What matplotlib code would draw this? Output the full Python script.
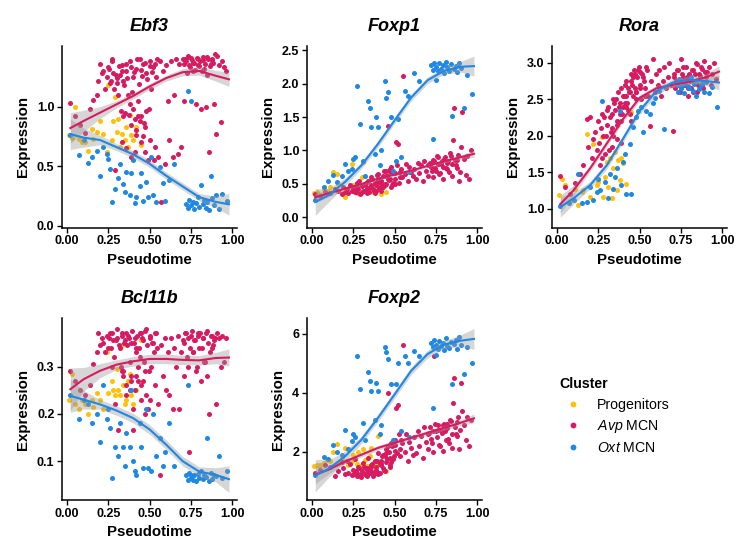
import numpy as np
import matplotlib
matplotlib.use('Agg')
import matplotlib.pyplot as plt
from matplotlib.lines import Line2D

plt.rcParams['font.family'] = ['Liberation Sans', 'DejaVu Sans']
plt.rcParams['mathtext.fontset'] = 'custom'
plt.rcParams['mathtext.rm'] = 'Liberation Sans'
plt.rcParams['mathtext.it'] = 'Liberation Sans:italic'

cluster_names = ['Progenitors', 'Avp MCN', 'Oxt MCN']
cluster_colors = ['#FFC107', '#D81B60', '#1E88E5']

# pseudotime of the cells in each cluster (shared by all genes)
prog_time = [0.01, 0.03, 0.05, 0.07, 0.09, 0.11, 0.13, 0.15, 0.16, 0.18,
             0.20, 0.22, 0.24, 0.25, 0.27, 0.28, 0.29, 0.30, 0.31, 0.32,
             0.33, 0.34, 0.35, 0.36, 0.37, 0.38, 0.39, 0.40, 0.42, 0.45]

avp_time = [0.02, 0.05, 0.08, 0.11, 0.14, 0.16, 0.18, 0.19, 0.20, 0.21,
            0.22, 0.23, 0.24, 0.25, 0.26, 0.27, 0.28, 0.29, 0.30, 0.31,
            0.32, 0.33, 0.34, 0.35, 0.36, 0.37, 0.38, 0.39, 0.40, 0.41,
            0.42, 0.43, 0.44, 0.45, 0.46, 0.47, 0.48, 0.49, 0.50, 0.51,
            0.52, 0.53, 0.54, 0.55, 0.56, 0.57, 0.58, 0.59, 0.60, 0.61,
            0.62, 0.63, 0.64, 0.65, 0.66, 0.67, 0.68, 0.69, 0.70, 0.71,
            0.72, 0.73, 0.74, 0.75, 0.76, 0.77, 0.78, 0.79, 0.80, 0.81,
            0.82, 0.83, 0.84, 0.85, 0.86, 0.87, 0.88, 0.89, 0.90, 0.91,
            0.92, 0.93, 0.94, 0.95, 0.96, 0.34, 0.38, 0.44, 0.48, 0.46,
            0.36, 0.42, 0.40, 0.45, 0.50, 0.43, 0.39, 0.47, 0.33, 0.41,
            0.255, 0.265, 0.275, 0.285, 0.295, 0.305, 0.315, 0.325, 0.335, 0.345,
            0.355, 0.365, 0.375, 0.385, 0.395, 0.405, 0.415, 0.425, 0.435, 0.445,
            0.455, 0.465, 0.475, 0.485, 0.495, 0.505, 0.515, 0.525, 0.535, 0.545,
            0.705, 0.715, 0.725, 0.735, 0.745, 0.755, 0.765, 0.775, 0.785, 0.795,
            0.805, 0.815, 0.825, 0.835, 0.845, 0.855, 0.865, 0.875, 0.885, 0.895]

oxt_time = [0.02, 0.07, 0.10, 0.13, 0.15, 0.18, 0.20, 0.22,
            0.24, 0.25, 0.26, 0.27, 0.29, 0.31, 0.32, 0.34, 0.35, 0.36,
            0.38, 0.39, 0.40, 0.41, 0.42, 0.44, 0.45, 0.46, 0.48, 0.49,
            0.51, 0.52, 0.54, 0.56, 0.58, 0.59, 0.62, 0.65, 0.73, 0.75,
            0.72, 0.73, 0.74, 0.75, 0.76, 0.77, 0.78, 0.79, 0.80, 0.81,
            0.82, 0.83, 0.84, 0.85, 0.86, 0.87, 0.88, 0.89, 0.90, 0.92,
            0.94, 0.97]

# --- Ebf3 ---
ebf3_prog = [0.76, 0.74, 1.00, 0.73, 0.70, 0.70, 0.63, 0.81, 0.73, 0.79,
             0.88, 0.77, 0.62, 1.18, 0.72, 0.88, 1.08, 0.79, 0.90, 0.66,
             0.77, 1.22, 0.72, 0.83, 0.66, 0.93, 0.76, 0.72, 0.83, 0.68]
ebf3_avp = [1.03, 0.92, 0.85, 0.78, 0.98, 1.06, 1.10, 1.22, 1.36, 1.28,
            1.30, 1.15, 1.25, 1.33, 1.20, 1.40, 1.28, 0.47, 1.24, 1.10,
            1.27, 1.35, 1.22, 0.95, 1.30, 1.10, 1.38, 0.85, 1.25, 0.62,
            1.32, 0.92, 1.40, 0.70, 1.36, 0.62, 1.28, 0.55, 1.38, 1.15,
            1.33, 0.66, 1.25, 0.58, 1.38, 0.20, 1.30, 0.52, 1.35, 1.05,
            0.72, 1.38, 0.58, 1.10, 1.40, 0.60, 1.36, 0.66, 1.40, 1.05,
            1.38, 1.42, 1.35, 1.41, 1.30, 1.37, 1.02, 1.40, 1.34, 0.98,
            1.39, 1.32, 1.00, 1.42, 0.62, 1.36, 1.40, 1.02, 0.77, 1.43,
            1.35, 0.87, 1.38, 1.33, 1.30, 0.92, 1.02, 0.88, 0.96, 0.75,
            0.65, 0.80, 0.98, 0.92, 0.72, 1.05, 0.58, 0.83, 0.70, 0.90,
            1.32, 1.22, 1.38, 1.15, 1.27, 1.20, 1.34, 0.96, 1.30, 1.18,
            1.36, 1.24, 0.93, 1.33, 1.12, 1.29, 0.76, 1.40, 1.19, 1.31,
            1.26, 0.86, 1.37, 1.23, 0.98, 1.34, 1.29, 0.55, 1.36, 1.40,
            1.36, 1.40, 1.28, 1.43, 1.33, 1.39, 1.37, 1.31, 1.41, 1.35,
            1.38, 1.30, 1.42, 1.36, 1.27, 1.40, 1.34, 1.39, 1.37, 1.44]
ebf3_oxt = [0.76, 0.59, 0.72, 0.53, 0.58, 0.63, 0.42, 0.66,
            0.60, 0.56, 0.48, 0.20, 0.31, 0.40, 0.52, 0.35, 0.28, 0.45,
            0.26, 0.44, 0.55, 0.19, 0.24, 0.33, 0.44, 0.21, 0.37, 0.24,
            0.58, 0.26, 0.20, 0.49, 0.36, 0.21, 0.38, 0.52, 1.13, 1.05,
            0.18, 0.15, 0.22, 0.17, 0.20, 0.14, 0.19, 0.24, 0.16, 0.34,
            0.18, 0.22, 0.15, 0.20, 0.13, 0.42, 0.23, 0.17, 0.26, 0.14,
            0.27, 0.21]

# --- Foxp1 ---
foxp1_prog = [0.36, 0.38, 0.33, 0.42, 0.40, 0.45, 0.68, 0.65, 0.50, 0.36,
              0.31, 0.44, 0.80, 0.48, 0.36, 0.52, 0.36, 0.60, 0.83, 0.48,
              0.41, 0.55, 0.44, 0.46, 0.38, 0.50, 0.42, 0.58, 0.35, 0.38]
foxp1_avp = [0.35, 0.32, 0.38, 0.36, 0.42, 0.40, 0.35, 0.45, 0.38, 0.43,
             0.36, 0.48, 0.40, 0.44, 0.38, 0.52, 0.42, 0.35, 0.47, 0.40,
             0.50, 0.38, 0.55, 0.45, 0.60, 0.42, 0.52, 0.48, 0.65, 0.44,
             0.55, 0.62, 0.48, 0.70, 1.36, 0.58, 0.75, 0.52, 0.66, 1.12,
             1.10, 0.60, 0.72, 2.11, 0.65, 0.80, 0.55, 0.76, 0.68, 0.62,
             0.72, 0.58, 0.82, 0.66, 0.78, 0.55, 0.85, 0.70, 0.62, 0.80,
             0.76, 0.60, 0.85, 0.70, 0.90, 0.65, 0.80, 0.58, 0.88, 0.74,
             0.82, 0.68, 0.92, 0.62, 1.64, 0.78, 0.86, 0.55, 1.05, 1.57,
             0.88, 0.64, 0.92, 0.58, 1.00, 0.42, 0.36, 0.50, 0.45, 0.58,
             0.48, 0.40, 0.56, 0.62, 0.50, 0.45, 0.40, 0.68, 0.37, 0.52,
             0.42, 0.38, 0.45, 0.55, 0.36, 0.48, 0.40, 0.52, 0.44, 0.38,
             0.46, 0.58, 0.40, 0.52, 0.63, 0.44, 0.55, 0.48, 0.70, 0.50,
             0.62, 0.56, 0.72, 0.48, 0.66, 0.58, 0.78, 0.52, 0.68, 0.60,
             0.78, 0.82, 0.70, 0.86, 0.74, 0.92, 0.80, 0.66, 0.84, 0.76,
             0.90, 0.72, 0.84, 0.96, 0.80, 1.16, 0.86, 0.74, 0.94, 0.68]
foxp1_oxt = [0.26, 0.46, 0.55, 0.63, 0.53, 0.62, 0.80, 0.70,
             0.72, 0.88, 0.90, 1.97, 1.40, 0.85, 0.62, 1.74, 1.64, 1.35,
             0.95, 1.50, 1.35, 0.78, 1.00, 2.04, 1.79, 1.87, 1.50, 0.70,
             0.85, 1.47, 0.90, 1.89, 1.82, 0.68, 2.16, 2.04, 1.17, 2.05,
             2.28, 2.20, 2.31, 2.25, 2.18, 2.30, 2.22, 2.27, 2.16, 2.32,
             2.24, 2.19, 2.29, 1.52, 2.21, 2.26, 2.17, 2.30, 2.23, 1.64,
             2.12, 1.84]

# --- Rora ---
rora_prog = [1.18, 1.40, 1.32, 1.07, 1.12, 1.27, 1.05, 1.23, 1.25, 2.02,
             1.16, 1.89, 1.32, 1.36, 1.98, 1.16, 1.43, 1.64, 1.30, 1.70,
             1.14, 1.55, 1.77, 1.25, 1.66, 1.39, 1.70, 1.62, 1.34, 2.32]
rora_avp = [1.45, 1.30, 1.20, 1.35, 1.48, 1.60, 2.23, 1.85, 2.25, 1.70,
            1.95, 2.05, 1.80, 2.20, 1.60, 2.30, 2.00, 1.75, 2.15, 2.40,
            2.25, 2.10, 2.50, 2.35, 1.95, 2.60, 2.45, 2.20, 2.55, 2.70,
            2.40, 2.65, 2.30, 2.75, 2.55, 2.85, 2.60, 2.90, 2.70, 2.50,
            2.80, 2.65, 2.95, 2.55, 2.14, 2.75, 3.05, 2.60, 2.85, 2.70,
            2.90, 2.55, 2.75, 2.95, 2.65, 2.80, 3.00, 2.70, 2.07, 2.85,
            2.75, 2.90, 2.60, 3.05, 2.80, 2.70, 2.95, 2.55, 2.85, 2.65,
            2.90, 2.75, 3.00, 2.60, 2.85, 2.95, 2.70, 3.02, 2.80, 2.88,
            2.95, 2.70, 2.85, 3.00, 2.78, 2.00, 2.30, 2.60, 2.50, 2.80,
            2.15, 2.55, 2.40, 2.20, 2.88, 2.35, 1.90, 2.65, 1.85, 2.45,
            1.90, 2.10, 1.70, 2.25, 2.00, 2.35, 1.80, 2.05, 2.30, 2.45,
            2.50, 2.20, 2.40, 2.65, 2.30, 2.55, 2.75, 2.45, 2.60, 2.85,
            2.70, 2.90, 2.60, 2.80, 2.95, 2.65, 2.85, 2.75, 2.55, 2.90,
            2.80, 2.65, 2.90, 2.75, 2.60, 2.85, 2.95, 2.70, 2.80, 2.65,
            2.75, 2.90, 2.60, 2.85, 2.98, 2.70, 2.82, 2.92, 2.65, 2.88]
rora_oxt = [1.03, 1.08, 1.12, 1.48, 1.07, 1.09, 1.30, 1.11,
            1.23, 1.40, 1.25, 2.48, 1.36, 1.14, 1.48, 1.27, 1.43, 1.55,
            2.34, 1.32, 1.64, 1.75, 1.20, 1.89, 1.20, 2.12, 2.25, 2.34,
            2.39, 2.05, 2.34, 2.30, 2.45, 2.52, 2.62, 2.09, 2.70, 2.66,
            2.72, 2.60, 2.78, 2.65, 2.70, 2.58, 2.75, 2.68, 2.66, 2.80,
            2.62, 2.71, 2.55, 2.77, 2.64, 2.69, 2.73, 2.60, 2.74, 2.58,
            2.67, 2.39]

# --- Bcl11b ---
bcl11b_prog = [0.23, 0.285, 0.22, 0.21, 0.23, 0.22, 0.20, 0.23, 0.215, 0.245,
               0.23, 0.21, 0.33, 0.245, 0.27, 0.25, 0.24, 0.295, 0.25, 0.24,
               0.345, 0.26, 0.22, 0.23, 0.27, 0.285, 0.24, 0.22, 0.25, 0.355]
bcl11b_avp = [0.29, 0.27, 0.25, 0.24, 0.26, 0.305, 0.33, 0.37, 0.345, 0.36,
              0.35, 0.33, 0.365, 0.34, 0.37, 0.30, 0.355, 0.22, 0.36, 0.165,
              0.34, 0.37, 0.29, 0.355, 0.26, 0.365, 0.31, 0.35, 0.165, 0.36,
              0.34, 0.27, 0.37, 0.23, 0.355, 0.29, 0.38, 0.21, 0.36, 0.30,
              0.35, 0.26, 0.37, 0.22, 0.07, 0.345, 0.28, 0.36, 0.25, 0.33,
              0.24, 0.36, 0.21, 0.34, 0.30, 0.365, 0.21, 0.33, 0.355, 0.28,
              0.37, 0.30, 0.12, 0.365, 0.33, 0.355, 0.29, 0.37, 0.34, 0.27,
              0.36, 0.31, 0.37, 0.28, 0.20, 0.365, 0.34, 0.355, 0.22, 0.37,
              0.36, 0.30, 0.365, 0.31, 0.36, 0.28, 0.25, 0.32, 0.24, 0.27,
              0.24, 0.28, 0.21, 0.26, 0.23, 0.30, 0.27, 0.20, 0.29, 0.25,
              0.36, 0.34, 0.37, 0.32, 0.355, 0.38, 0.345, 0.30, 0.365, 0.35,
              0.37, 0.345, 0.36, 0.28, 0.375, 0.35, 0.33, 0.365, 0.34, 0.37,
              0.36, 0.31, 0.375, 0.345, 0.29, 0.365, 0.35, 0.33, 0.37, 0.34,
              0.35, 0.37, 0.32, 0.36, 0.34, 0.375, 0.33, 0.355, 0.30, 0.365,
              0.37, 0.34, 0.36, 0.31, 0.375, 0.35, 0.33, 0.365, 0.345, 0.36]
bcl11b_oxt = [0.24, 0.19, 0.23, 0.22, 0.18, 0.20, 0.14, 0.26,
              0.19, 0.21, 0.17, 0.065, 0.13, 0.11, 0.18, 0.13, 0.09, 0.16,
              0.13, 0.25, 0.10, 0.08, 0.07, 0.18, 0.13, 0.085, 0.21, 0.085,
              0.08, 0.20, 0.11, 0.15, 0.09, 0.12, 0.18, 0.09, 0.26, 0.07,
              0.07, 0.06, 0.075, 0.065, 0.06, 0.07, 0.058, 0.072, 0.065, 0.08,
              0.062, 0.07, 0.066, 0.15, 0.058, 0.074, 0.063, 0.07, 0.068, 0.11,
              0.065, 0.08]

# --- Foxp2 ---
foxp2_prog = [1.51, 1.57, 1.55, 1.62, 1.74, 1.70, 2.00, 2.28, 1.62, 1.80,
              2.14, 1.57, 1.68, 1.90, 1.60, 2.00, 1.51, 1.57, 2.10, 1.74,
              1.51, 1.45, 1.85, 2.14, 1.62, 1.70, 1.55, 2.53, 1.65, 1.34]
foxp2_avp = [1.28, 1.40, 1.55, 1.50, 1.20, 1.35, 1.65, 1.45, 1.25, 1.70,
             1.30, 1.60, 1.22, 1.40, 1.75, 1.28, 1.50, 1.18, 1.35, 1.62,
             1.25, 1.45, 1.80, 1.30, 1.55, 1.20, 1.70, 1.38, 1.95, 1.28,
             1.60, 1.90, 1.35, 2.10, 4.00, 1.50, 2.30, 1.75, 2.05, 3.50,
             3.60, 1.85, 2.40, 5.64, 2.00, 2.60, 1.70, 2.35, 2.15, 1.90,
             2.50, 1.95, 2.70, 2.20, 2.55, 1.80, 2.85, 2.35, 2.10, 2.65,
             2.45, 2.00, 5.26, 2.70, 2.90, 2.25, 2.75, 2.05, 2.95, 2.40,
             2.80, 2.30, 3.05, 2.15, 4.52, 2.60, 3.00, 2.10, 4.35, 3.39,
             2.90, 2.40, 3.20, 2.20, 3.10, 1.40, 1.30, 1.85, 1.65, 2.20,
             1.50, 1.70, 1.25, 1.95, 2.25, 1.45, 1.35, 1.80, 1.20, 1.60,
             1.25, 1.35, 1.20, 1.45, 1.15, 1.30, 1.50, 1.22, 1.40, 1.28,
             1.35, 1.60, 1.25, 1.48, 1.70, 1.30, 1.55, 1.85, 1.40, 1.65,
             1.75, 2.00, 1.55, 2.20, 1.85, 2.40, 1.95, 2.60, 2.10, 2.30,
             2.60, 2.85, 2.30, 2.70, 2.95, 2.50, 2.75, 2.20, 2.65, 2.90,
             2.70, 2.95, 2.45, 3.10, 2.60, 3.67, 2.85, 2.55, 3.20, 2.75]
foxp2_oxt = [1.23, 1.82, 1.75, 2.25, 2.00, 1.90, 2.76, 2.10,
             2.36, 2.60, 2.50, 5.26, 4.12, 2.99, 2.40, 4.70, 4.41, 4.07,
             3.10, 4.35, 4.07, 2.60, 2.90, 5.55, 5.38, 5.15, 4.30, 2.40,
             4.30, 5.03, 2.70, 5.26, 5.03, 2.50, 5.43, 5.26, 3.50, 5.30,
             5.70, 5.55, 5.80, 5.62, 5.50, 5.75, 5.60, 5.68, 5.45, 5.85,
             5.58, 5.52, 5.72, 4.30, 5.65, 5.78, 5.48, 5.90, 5.62, 4.64,
             5.55, 5.03]

# smoothed trend per cluster, with its standard error band
fit_time = [0.02, 0.1, 0.2, 0.3, 0.4, 0.5, 0.6, 0.7, 0.8, 0.9, 0.98]

ebf3_avp_fit = [0.82, 0.88, 0.95, 1.02, 1.09, 1.17, 1.24, 1.29, 1.30, 1.26, 1.23]
ebf3_avp_se = [0.13, 0.09, 0.05, 0.03, 0.025, 0.025, 0.025, 0.03, 0.035, 0.045, 0.06]
ebf3_oxt_fit = [0.77, 0.74, 0.72, 0.66, 0.60, 0.52, 0.42, 0.33, 0.24, 0.20, 0.18]
ebf3_oxt_se = [0.13, 0.08, 0.04, 0.03, 0.03, 0.03, 0.03, 0.03, 0.03, 0.05, 0.09]

foxp1_avp_fit = [0.30, 0.36, 0.43, 0.50, 0.58, 0.64, 0.70, 0.77, 0.84, 0.90, 0.95]
foxp1_avp_se = [0.08, 0.05, 0.025, 0.025, 0.025, 0.025, 0.025, 0.025, 0.025, 0.035, 0.05]
foxp1_oxt_fit = [0.23, 0.33, 0.53, 0.78, 1.10, 1.45, 1.79, 2.05, 2.19, 2.25, 2.26]
foxp1_oxt_se = [0.20, 0.10, 0.06, 0.05, 0.05, 0.05, 0.05, 0.05, 0.05, 0.08, 0.15]

rora_avp_fit = [1.06, 1.25, 1.55, 1.89, 2.23, 2.52, 2.65, 2.70, 2.74, 2.80, 2.88]
rora_avp_se = [0.12, 0.07, 0.04, 0.04, 0.04, 0.04, 0.04, 0.04, 0.04, 0.05, 0.08]
rora_oxt_fit = [1.02, 1.14, 1.32, 1.59, 1.96, 2.34, 2.61, 2.73, 2.77, 2.75, 2.73]
rora_oxt_se = [0.14, 0.08, 0.05, 0.05, 0.05, 0.05, 0.05, 0.05, 0.05, 0.06, 0.10]

bcl11b_avp_fit = [0.252, 0.273, 0.291, 0.304, 0.311, 0.316, 0.316, 0.314, 0.313, 0.318, 0.319]
bcl11b_avp_se = [0.045, 0.025, 0.015, 0.01, 0.01, 0.01, 0.01, 0.01, 0.01, 0.012, 0.018]
bcl11b_oxt_fit = [0.238, 0.230, 0.220, 0.207, 0.191, 0.167, 0.135, 0.100, 0.078, 0.071, 0.062]
bcl11b_oxt_se = [0.035, 0.02, 0.01, 0.01, 0.01, 0.01, 0.01, 0.01, 0.01, 0.015, 0.028]

foxp2_avp_fit = [1.23, 1.40, 1.68, 1.91, 2.14, 2.31, 2.48, 2.65, 2.82, 2.99, 3.14]
foxp2_avp_se = [0.30, 0.15, 0.08, 0.08, 0.08, 0.08, 0.08, 0.08, 0.08, 0.10, 0.15]
foxp2_oxt_fit = [1.20, 1.43, 1.85, 2.42, 3.16, 3.95, 4.75, 5.32, 5.64, 5.77, 5.83]
foxp2_oxt_se = [0.55, 0.30, 0.18, 0.13, 0.13, 0.13, 0.13, 0.13, 0.13, 0.20, 0.35]

genes = ['Ebf3', 'Foxp1', 'Rora', 'Bcl11b', 'Foxp2']
gene_points = {
    'Ebf3': (ebf3_prog, ebf3_avp, ebf3_oxt),
    'Foxp1': (foxp1_prog, foxp1_avp, foxp1_oxt),
    'Rora': (rora_prog, rora_avp, rora_oxt),
    'Bcl11b': (bcl11b_prog, bcl11b_avp, bcl11b_oxt),
    'Foxp2': (foxp2_prog, foxp2_avp, foxp2_oxt),
}
gene_fits = {
    'Ebf3': ((ebf3_avp_fit, ebf3_avp_se), (ebf3_oxt_fit, ebf3_oxt_se)),
    'Foxp1': ((foxp1_avp_fit, foxp1_avp_se), (foxp1_oxt_fit, foxp1_oxt_se)),
    'Rora': ((rora_avp_fit, rora_avp_se), (rora_oxt_fit, rora_oxt_se)),
    'Bcl11b': ((bcl11b_avp_fit, bcl11b_avp_se), (bcl11b_oxt_fit, bcl11b_oxt_se)),
    'Foxp2': ((foxp2_avp_fit, foxp2_avp_se), (foxp2_oxt_fit, foxp2_oxt_se)),
}
gene_ylim = {
    'Ebf3': (-0.017, 1.51),
    'Foxp1': (-0.153, 2.56),
    'Rora': (0.736, 3.232),
    'Bcl11b': (0.018, 0.402),
    'Foxp2': (0.375, 6.53),
}
gene_yticks = {
    'Ebf3': [0.0, 0.5, 1.0],
    'Foxp1': [0.0, 0.5, 1.0, 1.5, 2.0, 2.5],
    'Rora': [1.0, 1.5, 2.0, 2.5, 3.0],
    'Bcl11b': [0.1, 0.2, 0.3],
    'Foxp2': [2, 4, 6],
}
gene_yfmt = {'Ebf3': '{:.1f}', 'Foxp1': '{:.1f}', 'Rora': '{:.1f}',
             'Bcl11b': '{:.1f}', 'Foxp2': '{:.0f}'}

# axes boxes in figure fraction [left, bottom, width, height]
col_left = [0.0837, 0.4143, 0.745]
row_bottom = [0.5852, 0.0893]
ax_w, ax_h = 0.236, 0.331


def draw_gene(ax, gene):
    times = (prog_time, avp_time, oxt_time)
    for t, y, col in zip(times, gene_points[gene], cluster_colors):
        ax.scatter(t, y, s=13, color=col, linewidths=0, zorder=2)
    ft = np.array(fit_time)
    for (fit, se), col in zip(gene_fits[gene], cluster_colors[1:]):
        fit = np.array(fit)
        se = np.array(se)
        ax.fill_between(ft, fit - se, fit + se, color='#999999', alpha=0.4,
                        linewidth=0, zorder=3)
        ax.plot(ft, fit, color=col, linewidth=1.5, zorder=4)

    ax.set_xlim(-0.03, 1.028)
    ax.set_ylim(*gene_ylim[gene])
    ax.set_xticks([0, 0.25, 0.5, 0.75, 1.0])
    ax.set_xticklabels(['0.00', '0.25', '0.50', '0.75', '1.00'])
    yt = gene_yticks[gene]
    ax.set_yticks(yt)
    ax.set_yticklabels([gene_yfmt[gene].format(v) for v in yt])
    for side in ['top', 'right']:
        ax.spines[side].set_visible(False)
    for side in ['left', 'bottom']:
        ax.spines[side].set_linewidth(1.1)
    ax.tick_params(direction='out', length=3.5, width=1.0, labelsize=9, pad=2)
    for lab in ax.get_xticklabels() + ax.get_yticklabels():
        lab.set_fontweight('bold')
    ax.set_xlabel('Pseudotime', fontsize=10.8, fontweight='bold', labelpad=4)
    ax.set_ylabel('Expression', fontsize=10.8, fontweight='bold', labelpad=5)
    ax.set_title(gene, fontsize=13, fontweight='bold', fontstyle='italic', pad=11)


fig = plt.figure(figsize=(7.41, 5.49), dpi=100)
for i, gene in enumerate(genes):
    r, c = divmod(i, 3)
    ax = fig.add_axes([col_left[c], row_bottom[r], ax_w, ax_h])
    draw_gene(ax, gene)

labels = ['Progenitors', r'$\mathit{Avp}$ MCN', r'$\mathit{Oxt}$ MCN']
handles = [Line2D([], [], marker='o', linestyle='', markersize=4.2,
                  markerfacecolor=c, markeredgewidth=0) for c in cluster_colors]
leg = fig.legend(handles, labels, title='Cluster', loc='upper left',
                 bbox_to_anchor=(0.742, 0.331), frameon=False, fontsize=10.2,
                 handlelength=1.83, handletextpad=0.78, labelspacing=0.45,
                 alignment='left', borderpad=0.2)
leg.get_title().set_fontweight('bold')
leg.get_title().set_fontsize(10.2)

fig.savefig('out.png', dpi=100)
